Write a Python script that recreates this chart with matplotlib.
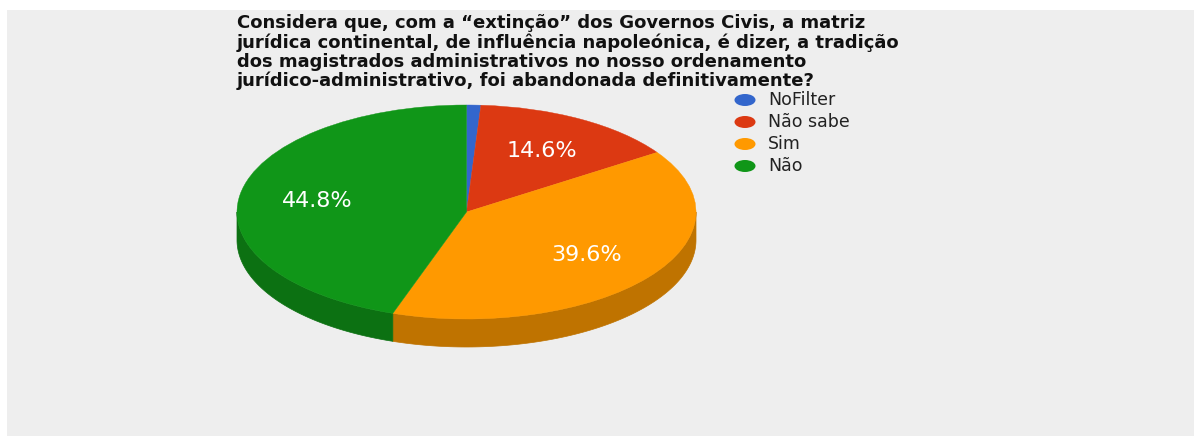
import numpy as np
import matplotlib
matplotlib.use("Agg")
import matplotlib.pyplot as plt
from matplotlib.patches import Wedge, Polygon, Ellipse, Rectangle
from matplotlib.transforms import Affine2D
from matplotlib.colors import to_rgb

# ---- data ----
categories = ["NoFilter", "Não sabe", "Sim", "Não"]
values = [1.0, 14.6, 39.6, 44.8]
colors = ["#3366cc", "#dc3912", "#ff9900", "#109618"]
title_lines = [
    "Considera que, com a “extinção” dos Governos Civis, a matriz",
    "jurídica continental, de influência napoleónica, é dizer, a tradição",
    "dos magistrados administrativos no nosso ordenamento",
    "jurídico-administrativo, foi abandonada definitivamente?",
]

W, H, DPI = 1194, 436, 100
fig = plt.figure(figsize=(W / DPI, H / DPI), dpi=DPI, facecolor="white")
ax = fig.add_axes([0, 0, 1, 1])
ax.set_xlim(0, W)
ax.set_ylim(H, 0)
ax.axis("off")

ax.add_patch(Rectangle((7, 10), W - 7, H - 10, facecolor="#eeeeee", edgecolor="none", zorder=0))

# pie geometry (pixels)
cx, cy, rx, ry, depth = 466.5, 212.0, 229.5, 107.0, 28.0
unit = Affine2D().scale(rx, -ry).translate(cx, cy) + ax.transData

total = sum(values)
spans = [v / total * 360.0 for v in values]
starts = 90.0 - np.concatenate([[0], np.cumsum(spans)[:-1]])
ranges = [(s - sp, s) for s, sp in zip(starts, spans)]


def darker(c, f=0.75):
    r, g, b = to_rgb(c)
    return (r * f, g * f, b * f)


# sides (visible lower half of the rim)
for (a, b), c in zip(ranges, colors):
    for k in (-360, 0, 360):
        lo, hi = max(a + k, -180.0), min(b + k, 0.0)
        if hi > lo:
            t = np.radians(np.linspace(lo, hi, 120))
            xs = cx + rx * np.cos(t)
            ys = cy - ry * np.sin(t)
            pts = np.column_stack([np.r_[xs, xs[::-1]], np.r_[ys, ys[::-1] + depth]])
            ax.add_patch(Polygon(pts, closed=True, facecolor=darker(c), edgecolor=darker(c),
                                 linewidth=0.5, zorder=1))

# tops
for (a, b), c in zip(ranges, colors):
    ax.add_patch(Wedge((0, 0), 1.0, a, b, facecolor=c, edgecolor=c, linewidth=0.3,
                       transform=unit, zorder=2))

# percentage labels
for (a, b), v in zip(ranges, values):
    if v / total < 0.05:
        continue
    m = np.radians((a + b) / 2)
    lx = cx + 0.66 * rx * np.cos(m)
    ly = cy - 0.66 * ry * np.sin(m)
    ax.text(lx, ly, f"{v:.1f}%", color="white", fontsize=16, family="DejaVu Sans",
            ha="center", va="center", zorder=3)

# title
for i, line in enumerate(title_lines):
    ax.text(237, 28 + i * 19.5, line, fontsize=13, fontweight="bold", family="DejaVu Sans",
            color="#111111", ha="left", va="baseline", zorder=3)

# legend
for i, (name, c) in enumerate(zip(categories, colors)):
    y = 100 + i * 22
    ax.add_patch(Ellipse((745, y), 21, 12, facecolor=c, edgecolor="none", zorder=3))
    ax.text(768, y, name, fontsize=12.5, family="DejaVu Sans", color="#222222",
            ha="left", va="center", zorder=3)

fig.savefig("out.png", dpi=DPI, facecolor=fig.get_facecolor())
